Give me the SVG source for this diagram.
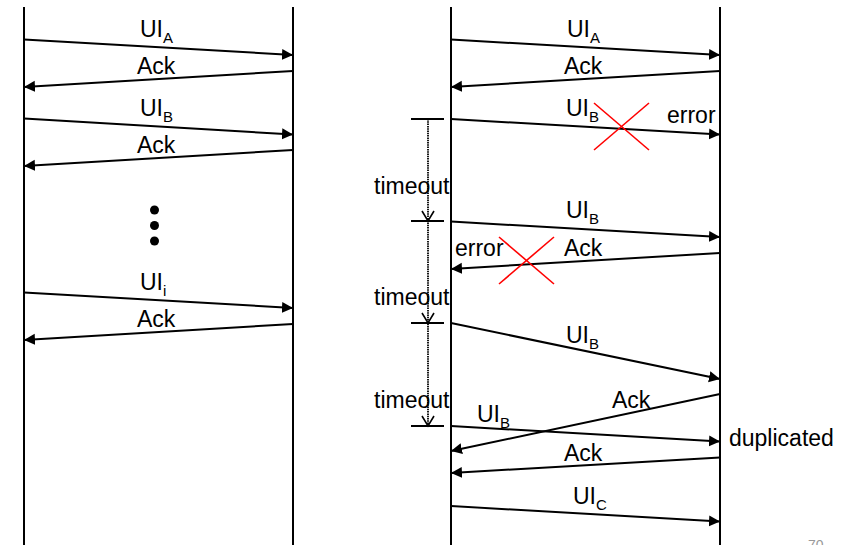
<svg xmlns="http://www.w3.org/2000/svg" width="856" height="545" viewBox="0 0 856 545">
<defs>
<style>
text{font-family:"Liberation Sans",Arial,sans-serif;font-size:23px;fill:#000}
.sub{font-size:15px}
.life{stroke:#000;stroke-width:2;fill:none}
.msg{stroke:#000;stroke-width:2;fill:none;marker-end:url(#ah)}
.x{stroke:#f00;stroke-width:1.6}
.tick{stroke:#000;stroke-width:1.8}
.dot{stroke:#000;stroke-width:1.8;stroke-dasharray:1.5 0.8}
.v{stroke:#000;stroke-width:1.6;fill:none}
</style>
<marker id="ah" markerUnits="userSpaceOnUse" markerWidth="12" markerHeight="12" refX="11" refY="6" orient="auto">
<path d="M0,0.5 L11,6 L0,11.5 z" fill="#000"/>
</marker>
</defs>
<rect width="856" height="545" fill="#fff"/>
<g id="lifelines">
<line class="life" x1="24" y1="7" x2="24" y2="545"/>
<line class="life" x1="293" y1="7" x2="293" y2="545"/>
<line class="life" x1="451" y1="7" x2="451" y2="545"/>
<line class="life" x1="720" y1="7" x2="720" y2="545"/>
</g>
<g id="connectors">
<line class="msg" x1="24" y1="39.5" x2="293" y2="55"/>
<line class="msg" x1="293" y1="71" x2="24" y2="87"/>
<line class="msg" x1="24" y1="118.5" x2="293" y2="134.5"/>
<line class="msg" x1="293" y1="150" x2="24" y2="166"/>
<line class="msg" x1="24" y1="292.5" x2="293" y2="308"/>
<line class="msg" x1="293" y1="324" x2="24" y2="340"/>
<line class="msg" x1="451" y1="39.5" x2="720" y2="55"/>
<line class="msg" x1="720" y1="71" x2="451" y2="87"/>
<line class="msg" x1="451" y1="119" x2="720" y2="134.5"/>
<line class="msg" x1="451" y1="221.5" x2="720" y2="237"/>
<line class="msg" x1="720" y1="253" x2="451" y2="269"/>
<line class="msg" x1="451" y1="323" x2="720" y2="379"/>
<line class="msg" x1="720" y1="394" x2="451" y2="451"/>
<line class="msg" x1="451" y1="426" x2="720" y2="441.5"/>
<line class="msg" x1="720" y1="457.5" x2="451" y2="473"/>
<line class="msg" x1="451" y1="506" x2="720" y2="521.5"/>
</g>
<g id="timeouts">
<line class="tick" x1="411" y1="119" x2="444" y2="119"/>
<line class="tick" x1="411" y1="221" x2="444" y2="221"/>
<line class="tick" x1="411" y1="323" x2="444" y2="323"/>
<line class="tick" x1="411" y1="426" x2="444" y2="426"/>
<line class="dot" x1="428" y1="119" x2="428" y2="426"/>
<path class="v" d="M422,211 L428,221 L434,211"/>
<path class="v" d="M422,313 L428,323 L434,313"/>
<path class="v" d="M422,416 L428,426 L434,416"/>
<text x="374" y="194">timeout</text>
<text x="374" y="305">timeout</text>
<text x="374" y="408">timeout</text>
</g>
<g id="errors">
<line class="x" x1="594" y1="103" x2="649" y2="150"/>
<line class="x" x1="649" y1="103" x2="594" y2="150"/>
<line class="x" x1="499" y1="237" x2="554" y2="284"/>
<line class="x" x1="554" y1="237" x2="499" y2="284"/>
</g>
<g id="dots">
<circle cx="154.5" cy="210" r="4.5"/>
<circle cx="154.5" cy="225.5" r="4.5"/>
<circle cx="154.5" cy="241" r="4.5"/>
</g>
<g id="labels">
<text x="140" y="37">UI<tspan class="sub" dy="6">A</tspan></text>
<text x="137" y="74">Ack</text>
<text x="140" y="116">UI<tspan class="sub" dy="6">B</tspan></text>
<text x="137" y="153">Ack</text>
<text x="140" y="290">UI<tspan class="sub" dy="6">i</tspan></text>
<text x="137" y="327">Ack</text>
<text x="567" y="37">UI<tspan class="sub" dy="6">A</tspan></text>
<text x="564" y="74">Ack</text>
<text x="566" y="116">UI<tspan class="sub" dy="6">B</tspan></text>
<text x="667" y="123">error</text>
<text x="566" y="218">UI<tspan class="sub" dy="6">B</tspan></text>
<text x="455" y="256">error</text>
<text x="564" y="256">Ack</text>
<text x="566" y="343">UI<tspan class="sub" dy="6">B</tspan></text>
<text x="612" y="408">Ack</text>
<text x="477" y="422">UI<tspan class="sub" dy="6">B</tspan></text>
<text x="729" y="446">duplicated</text>
<text x="564" y="461">Ack</text>
<text x="573" y="504">UI<tspan class="sub" dy="6">C</tspan></text>
<text x="808" y="550" style="font-size:14px;fill:#999">70</text>
</g>
</svg>
